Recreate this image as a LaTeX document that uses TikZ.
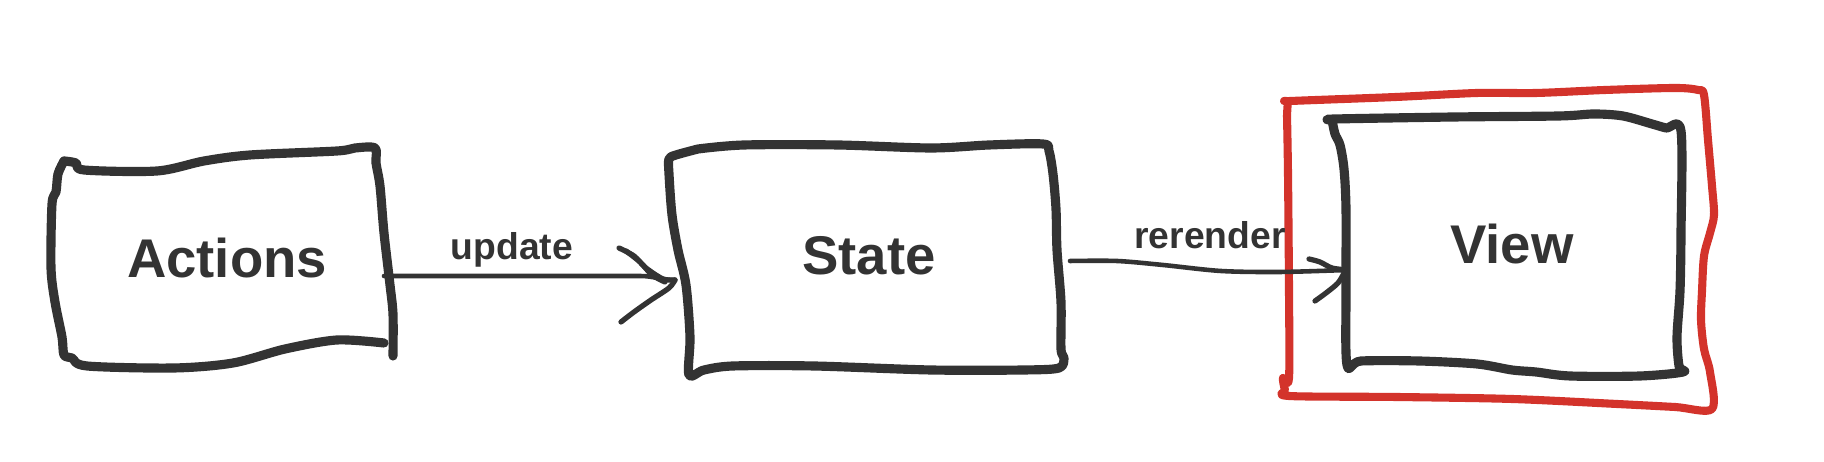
\documentclass[tikz,border=0pt]{standalone}
\usepackage{fontspec}
\setmainfont{Liberation Sans}
\usepackage{tikz}
\usepackage{xcolor}
\definecolor{ink}{HTML}{333333}
\definecolor{redink}{HTML}{D3332B}
\tikzset{
  sketch/.style={draw=ink, line width=2.6pt, line join=round, line cap=round},
  redsketch/.style={draw=redink, line width=2.3pt, line join=round, line cap=round},
  wire/.style={draw=ink, line width=1.3pt, line cap=round},
  barb/.style={draw=ink, line width=1.5pt, line cap=round},
  boxtext/.style={text=ink, font=\bfseries\fontsize{15.5}{18}\selectfont},
  edgetext/.style={text=ink, font=\bfseries\fontsize{10.6}{13}\selectfont}
}
\begin{document}
\begin{tikzpicture}[x=0.01cm, y=-0.01cm]
  \useasboundingbox (0,0) rectangle (1824,462);
  % boxes
  \draw[sketch] plot[smooth] coordinates {(64,161) (76,163) (84,170) (157,171) (204,161) (250,155) (337,151) (355,148) (375,148) (376,163) (380,186) (384,233) (390,285) (393,314) (393,356)};
  \draw[sketch] plot[smooth] coordinates {(384,343) (337,340) (285,349) (233,363) (174,368) (87,366) (72,358) (64,355) (62,337) (55,302) (51,268) (52,204) (56,192) (58,174) (64,161)};
  \draw[sketch] plot[smooth] coordinates {(698,149) (744,145) (838,145) (931,148) (989,145) (1043,144) (1049,151) (1053,174) (1056,209) (1057,250) (1061,302) (1061,349) (1064,358) (1059,368) (1024,370) (931,370) (814,366) (733,366) (704,370) (689,375) (690,337) (686,285) (678,250) (672,215) (669,174) (669,159) (676,155) (698,149)};
  \draw[sketch] plot[smooth] coordinates {(1332,120) (1335,119) (1454,117) (1559,116) (1594,114) (1623,116) (1652,124) (1666,128) (1681,131) (1681,233) (1680,291) (1677,337) (1679,366) (1683,372) (1640,376) (1570,376) (1536,372) (1512,370) (1477,364) (1419,361) (1361,361) (1347,365) (1346,291) (1346,209) (1344,169) (1340,145) (1335,134) (1332,120)};
  \draw[redsketch] plot[smooth] coordinates {(1287,116) (1288,102) (1291,101) (1396,97) (1477,93) (1536,93) (1605,90) (1675,88) (1698,90) (1704,95) (1708,140) (1712,186) (1714,215) (1710,233) (1704,256) (1702,291) (1701,320) (1704,349) (1710,372) (1712,409) (1675,407) (1617,404) (1512,399) (1396,397) (1289,396) (1285,390) (1283,378) (1289,378) (1289,291) (1288,174) (1287,116)};
  % labels
  \node[boxtext] (actions) at (227,258) {Actions};
  \node[boxtext] (state) at (869,256) {State};
  \node[boxtext] (view) at (1512,244) {View};
  % connectors
  \coordinate (actE) at (384,276); \coordinate (stW) at (675,280);
  \coordinate (stE) at (1070,261); \coordinate (viW) at (1347,270);
  \draw[wire] (actE) -- (640,276) to[out=0, in=180] (stW);
  \draw[barb] plot[smooth] coordinates {(619,248) (634,256) (646,268) (663,279) (stW)};
  \draw[barb] plot[smooth] coordinates {(626,251) (640,262) (652,275) (665,282)};
  \draw[barb] plot[smooth] coordinates {(621,322) (634,312) (651,300) (669,288) (stW)};
  \node[edgetext] (upd) at (512,250) {update};
  \draw[wire] plot[smooth] coordinates {(stE) (1117,261) (1163,265) (1221,271) (1280,272) (viW)};
  \draw[barb] plot[smooth] coordinates {(1309,259) (1320,262) (1332,268) (viW)};
  \draw[barb] plot[smooth] coordinates {(1315,301) (1326,293) (1338,283) (1344,273)};
  \node[edgetext] (rer) at (1210,235) {rerender};
\end{tikzpicture}
\end{document}
